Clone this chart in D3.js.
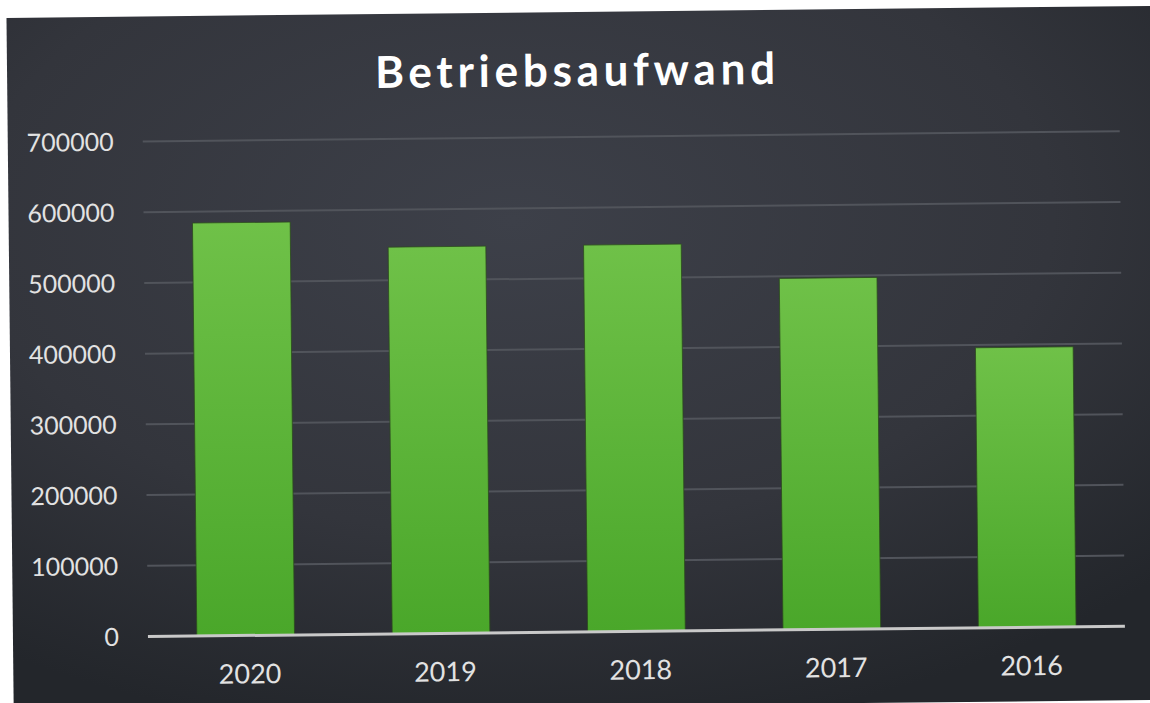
<!DOCTYPE html>
<html>
<head>
<meta charset="utf-8">
<script src="https://cdn.jsdelivr.net/npm/d3@7"></script>
<style>
  html, body { margin: 0; padding: 0; background: #fff; }
  svg { display: block; }
</style>
</head>
<body>
<svg id="chart"></svg>
<script>
const width = 1150
const height = 703

// values
const years = ['2020', '2019', '2018', '2017', '2016']
const costs = [584000, 547000, 547000, 497000, 396000]
const yTicks = [0, 100000, 200000, 300000, 400000, 500000, 600000, 700000]
const title = 'Betriebsaufwand'

const svg = d3.select('#chart')
  .attr('width', width)
  .attr('height', height)

const defs = svg.append('defs')

const bg = defs.append('radialGradient')
  .attr('id', 'bg')
  .attr('cx', '42%').attr('cy', '30%').attr('r', '75%')
bg.append('stop').attr('offset', '0%').attr('stop-color', '#3d4049')
bg.append('stop').attr('offset', '60%').attr('stop-color', '#33353c')
bg.append('stop').attr('offset', '100%').attr('stop-color', '#23262b')

const green = defs.append('linearGradient')
  .attr('id', 'green')
  .attr('x1', 0).attr('y1', 0).attr('x2', 0).attr('y2', 1)
green.append('stop').attr('offset', '0%').attr('stop-color', '#6fc148')
green.append('stop').attr('offset', '100%').attr('stop-color', '#4aa72a')

// the photo is a little tilted
const g = svg.append('g')
  .attr('transform', `rotate(-0.6 ${width / 2} ${height / 2})`)

g.append('rect')
  .attr('x', 10).attr('y', 12)
  .attr('width', 1200).attr('height', 694)
  .attr('fill', 'url(#bg)')

const x = d3.scaleBand()
  .domain(years)
  .range([145, 1122])
  .paddingInner(0.5)
  .paddingOuter(0.25)

const y = d3.scaleLinear()
  .domain([0, 700000])
  .range([632, 137])

// grid
g.append('g')
  .selectAll('line')
  .data(yTicks.slice(1))
  .join('line')
    .attr('x1', 145).attr('x2', 1122)
    .attr('y1', d => y(d)).attr('y2', d => y(d))
    .attr('stroke', '#51545b')
    .attr('stroke-width', 2)

// y labels
g.append('g')
  .selectAll('text')
  .data(yTicks)
  .join('text')
    .attr('x', 116)
    .attr('y', d => y(d))
    .attr('dy', '0.36em')
    .attr('text-anchor', 'end')
    .attr('fill', '#e2e2e2')
    .style('font', '25px Lato')
    .text(d => d)

// bars
g.append('g')
  .selectAll('rect')
  .data(costs)
  .join('rect')
    .attr('x', (d, i) => x(years[i]))
    .attr('y', d => y(d))
    .attr('width', x.bandwidth())
    .attr('height', d => y(0) - y(d))
    .attr('fill', 'url(#green)')
    .attr('stroke', '#2c4a1e')
    .attr('stroke-width', 0.8)

// axis line
g.append('line')
  .attr('x1', 145).attr('x2', 1122)
  .attr('y1', y(0)).attr('y2', y(0))
  .attr('stroke', '#c9c9c9')
  .attr('stroke-width', 3)

// x labels
g.append('g')
  .selectAll('text')
  .data(years)
  .join('text')
    .attr('x', d => x(d) + x.bandwidth() / 2 + 4)
    .attr('y', 680)
    .attr('text-anchor', 'middle')
    .attr('fill', '#e2e2e2')
    .style('font', '27px Lato')
    .text(d => d)

// title
g.append('text')
  .attr('x', 578)
  .attr('y', 86)
  .attr('text-anchor', 'middle')
  .attr('fill', '#ffffff')
  .attr('textLength', 400)
  .attr('lengthAdjust', 'spacing')
  .style('font', 'bold 44px Lato')
  .text(title)
</script>
</body>
</html>
